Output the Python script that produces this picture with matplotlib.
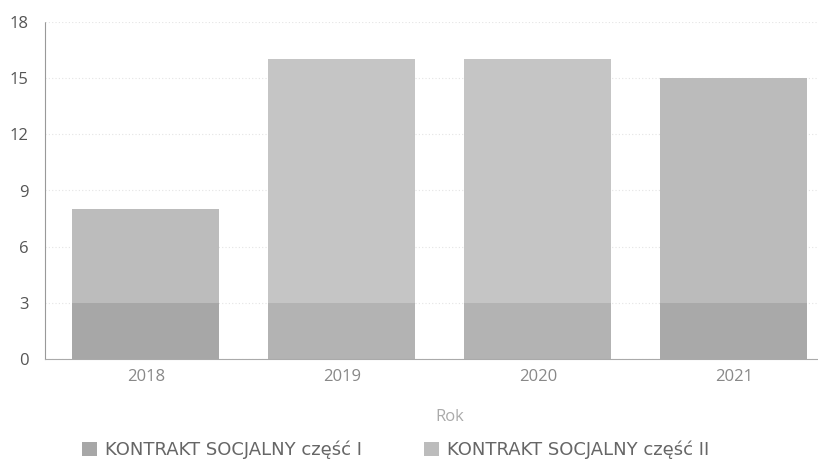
import matplotlib
matplotlib.use('Agg')
from matplotlib import pyplot as plt
import numpy as np

years = ['2018', '2019', '2020', '2021']
czesc_1 = [3, 3, 3, 3]
czesc_2 = [5, 13, 13, 12]
series_names = ['KONTRAKT SOCJALNY część I', 'KONTRAKT SOCJALNY część II']
y_ticks = [0, 3, 6, 9, 12, 15, 18]

plt.rcParams['font.family'] = ['Open Sans', 'DejaVu Sans']

fig = plt.figure(figsize=(8.18, 4.65), dpi=100)
ax = fig.add_axes([45/818, 1 - 359/465, 1 - 45/818, (359 - 22)/465])

x = np.arange(len(years))
# scanned greys: middle bars came out lighter
ax.bar(x, czesc_1, width=0.75, color=['#a7a7a7', '#b3b3b3', '#b3b3b3', '#a9a9a9'],
       label=series_names[0], zorder=2)
ax.bar(x, czesc_2, width=0.75, bottom=czesc_1, color=['#bcbcbc', '#c5c5c5', '#c5c5c5', '#bbbbbb'],
       label=series_names[1], zorder=2)

ax.set_xlim(-0.515, 3.43)
ax.set_ylim(0, 18)
ax.set_yticks(y_ticks)
ax.set_xticks(x)
ax.set_xticklabels(years)
ax.tick_params(axis='both', length=0, labelsize=12, labelcolor='#555555')
ax.tick_params(axis='x', pad=7, labelcolor='#888888')
ax.tick_params(axis='y', pad=12)
ax.grid(axis='y', color='#e4e4e4', linestyle=(0, (1, 2)), linewidth=0.8, zorder=0)

for s in ['top', 'right']:
    ax.spines[s].set_visible(False)
ax.spines['left'].set_color('#999999')
ax.spines['left'].set_linestyle((0, (1, 1)))
ax.spines['left'].set_linewidth(0.8)
ax.spines['bottom'].set_color('#aaaaaa')
ax.spines['bottom'].set_linestyle((0, (1, 1)))
ax.spines['bottom'].set_linewidth(0.8)

ax.set_xlabel('Rok', fontsize=12, color='#aaaaaa')
ax.xaxis.set_label_coords((450 - 45) / 773, -(409 - 359) / 337)

leg = fig.legend(loc='center left', bbox_to_anchor=(82/818, 1 - 450/465), ncol=2, frameon=False,
                 prop={'family': 'DejaVu Sans', 'size': 13},
                 borderpad=0, borderaxespad=0,
                 handlelength=0.85, handleheight=0.85, handletextpad=0.45,
                 columnspacing=3.4, labelcolor='#666666')

fig.savefig('out.png', dpi=100)
